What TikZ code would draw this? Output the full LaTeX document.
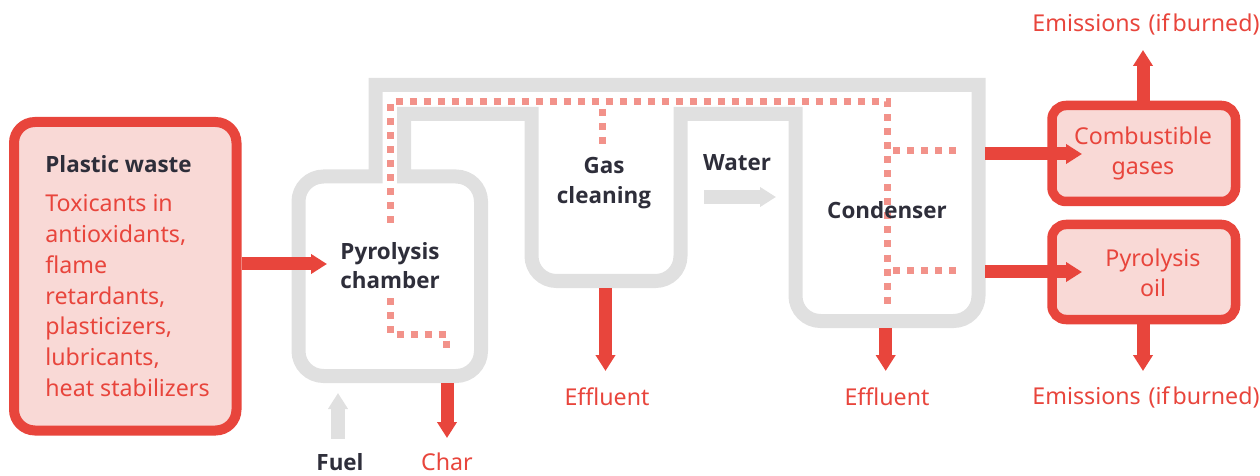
\documentclass[tikz,border=0pt]{standalone}
\usepackage{fontspec}
\setmainfont{Noto Sans}
\newfontfamily\labfont{Open Sans}
\usetikzlibrary{arrows.meta}
\definecolor{myred}{HTML}{E8453C}
\definecolor{mypink}{HTML}{F9D9D6}
\definecolor{mydot}{HTML}{F2928A}
\definecolor{mygray}{HTML}{E0E0E0}
\definecolor{mydark}{HTML}{2E2E3A}
\begin{document}
\begin{tikzpicture}[x=0.5pt,y=-0.5pt,
  pipe/.style={draw=mygray, line width=7pt, line join=miter},
  dots/.style={draw=mydot, line width=3.5pt, dash pattern=on 3.5pt off 3.5pt},
  redarrow/.style={draw=myred, line width=6.5pt, -{Triangle[width=9.5pt,length=8pt]}},
  grayarrow/.style={draw=mygray, line width=7pt, -{Triangle[width=9.5pt,length=8pt]}},
  lab/.style={font={\labfont\bfseries\fontsize{11.2}{13}\selectfont}, text=mydark, anchor=base, inner sep=0pt},
  redlab/.style={font={\fontsize{11.6}{13}\selectfont}, text=myred, anchor=base, inner sep=0pt},
  redbox/.style={draw=myred, fill=mypink, rounded corners=7pt, line width=4.75pt, inner sep=0pt}]
\useasboundingbox (0,0) rectangle (1260,476);

% gray pipe structure
\draw[pipe] (375.5,85) -- (978.5,85) -- (978.5,296) arc[start angle=0,end angle=90,radius=25]
  -- (820.5,321) arc[start angle=90,end angle=180,radius=25]
  -- (795.5,114) -- (680.5,114) -- (680.5,256) arc[start angle=0,end angle=90,radius=25]
  -- (556.5,281) arc[start angle=90,end angle=180,radius=25]
  -- (531.5,114) -- (404,114) -- (404,176.5) -- (456,176.5) arc[start angle=-90,end angle=0,radius=25]
  -- (481,351) arc[start angle=0,end angle=90,radius=25]
  -- (323.5,376) arc[start angle=90,end angle=180,radius=25]
  -- (298.5,201.5) arc[start angle=180,end angle=270,radius=25]
  -- (375.5,176.5) -- cycle;

% dotted flow lines
\draw[dots] (390.5,223) -- (390.5,102) -- (887,102) -- (887,306);
\draw[dots] (602,109) -- (602,144);
\draw[dots] (893,151) -- (958,151);
\draw[dots] (893,271) -- (958,271);
\draw[dots] (390.5,298) -- (390.5,334) -- (446,334) -- (446,350);

% boxes
\node[redbox, rounded corners=10.5pt, line width=5pt, minimum width=111.25pt, minimum height=154.25pt] (waste) at (125.25,276.25) {};
\node[redbox, minimum width=91.75pt, minimum height=48pt] (comb) at (1143.75,153.5) {};
\node[redbox, minimum width=91.75pt, minimum height=47.5pt] (oil) at (1143.75,272) {};

% coordinates
\coordinate (chin) at (327,264);
\coordinate (charbot) at (447,383);
\coordinate (chartip) at (447,438);
\coordinate (fuelbot) at (338,439);
\coordinate (fueltip) at (338,393);
\coordinate (wat0) at (704,197);
\coordinate (wat1) at (776,197);
\coordinate (gcbot) at (605.5,288);
\coordinate (gctip) at (605.5,371);
\coordinate (cdbot) at (885.7,328);
\coordinate (cdtip) at (885.7,371);
\coordinate (cdr1) at (985,154);
\coordinate (combin) at (1082,154);
\coordinate (cdr2) at (985,272);
\coordinate (oilin) at (1082,272);
\coordinate (emtop) at (1143,50);
\coordinate (embot) at (1143,371);

% arrows
\draw[redarrow] (waste.east |- chin) -- (chin);
\draw[redarrow] (charbot) -- (chartip);
\draw[grayarrow] (fuelbot) -- (fueltip);
\draw[grayarrow] (wat0) -- (wat1);
\draw[redarrow] (gcbot) -- (gctip);
\draw[redarrow] (cdbot) -- (cdtip);
\draw[redarrow] (cdr1) -- (combin);
\draw[redarrow] (cdr2) -- (oilin);
\draw[redarrow] (comb.north -| emtop) -- (emtop);
\draw[redarrow] (oil.south -| embot) -- (embot);

% labels
\node[lab, anchor=base west] (pw) at (45,173) {Plastic waste};
\foreach \t [count=\i from 0] in {{Toxicants in},{antioxidants,},{flame},{retardants,},{plasticizers,},{lubricants,},{heat stabilizers}}
  \node[redlab, anchor=base west] (tox\i) at (45,212+30.67*\i) {\t};
\node[lab] (pc1) at (390,259) {Pyrolysis};
\node[lab] (pc2) at (390,288) {chamber};
\node[lab] (gc1) at (604,174) {Gas};
\node[lab] (gc2) at (604,204) {cleaning};
\node[lab] (wat) at (737,171) {Water};
\node[lab] (cond) at (887,219) {Condenser};
\node[lab] (fuel) at (340,470) {Fuel};
\node[redlab] (char) at (447,470) {Char};
\node[redlab] (eff1) at (607,405) {Effluent};
\node[redlab] (eff2) at (887,405) {Effluent};
\node[redlab] (em1) at (1146,32) {Emissions\hspace{4pt}(if\hspace{1.5pt}burned)};
\node[redlab] (em2) at (1146,404) {Emissions\hspace{4pt}(if\hspace{1.5pt}burned)};
\node[redlab] (cg1) at (1143,145) {Combustible};
\node[redlab] (cg2) at (1143,175) {gases};
\node[redlab] (po1) at (1153,267) {Pyrolysis};
\node[redlab] (po2) at (1153,297) {oil};
\end{tikzpicture}
\end{document}
